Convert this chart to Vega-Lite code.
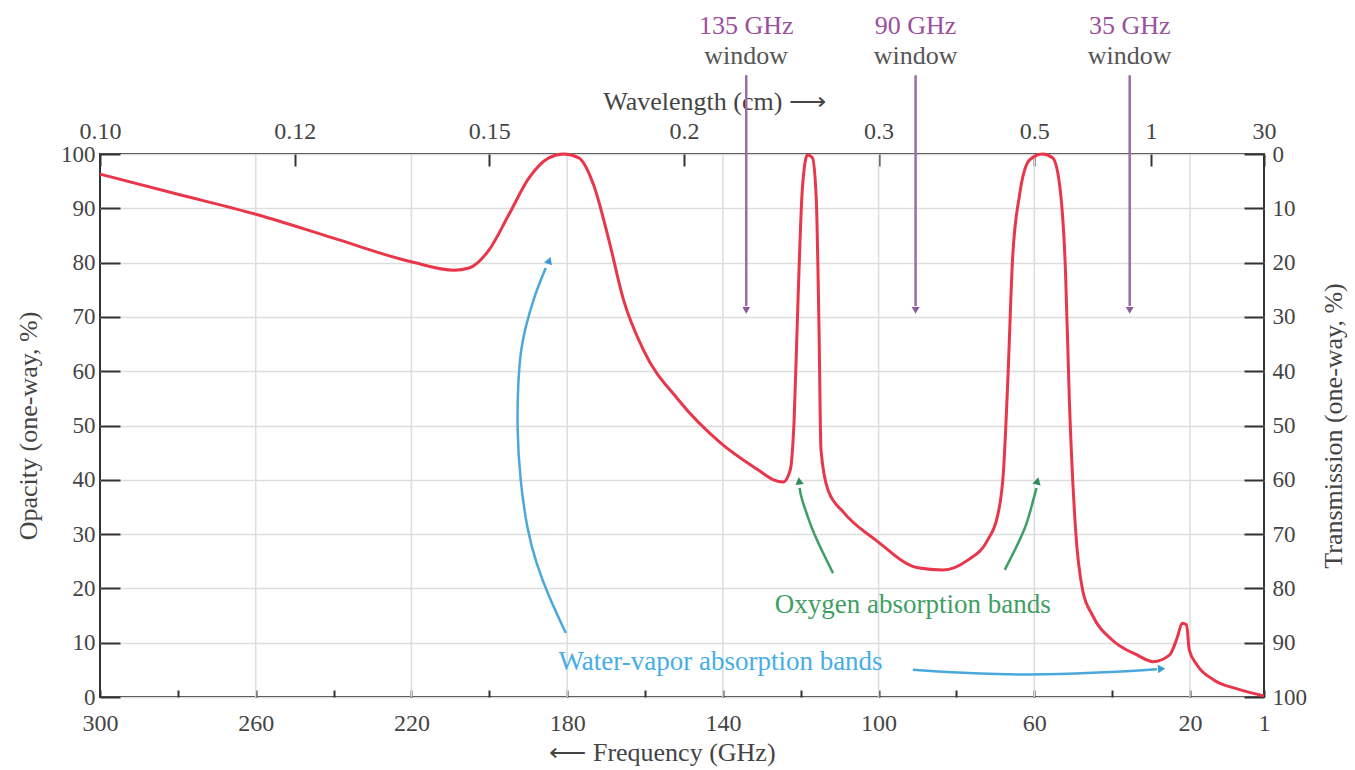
{
  "$schema": "https://vega.github.io/schema/vega-lite/v6.json",
  "width": 1164,
  "height": 543,
  "autosize": {"type": "none"},
  "padding": {"left": 100, "top": 154, "right": 91, "bottom": 73},
  "background": "white",
  "config": {
    "view": {"stroke": "#333333", "strokeWidth": 2},
    "font": "Liberation Serif",
    "axis": {
      "labelFont": "Liberation Serif",
      "labelFontSize": 24,
      "labelColor": "#444444",
      "titleFont": "Liberation Serif",
      "titleFontSize": 26,
      "titleFontWeight": "normal",
      "titleColor": "#444444",
      "tickColor": "#333333",
      "tickWidth": 2,
      "domain": false,
      "grid": false,
      "labelOverlap": false,
      "labelFlush": false
    }
  },
  "datasets": {
    "curve": [
      {"f": 300, "v": 96.3}, {"f": 280, "v": 92.6}, {"f": 259.5, "v": 88.8}, {"f": 240, "v": 84.5},
      {"f": 219.8, "v": 80.1}, {"f": 209, "v": 78.6}, {"f": 205.2, "v": 79}, {"f": 200.1, "v": 82.3},
      {"f": 195, "v": 88.8}, {"f": 189.8, "v": 95.6}, {"f": 184.7, "v": 99.3}, {"f": 180.9, "v": 100},
      {"f": 177, "v": 99.3}, {"f": 173.2, "v": 94.3}, {"f": 169.3, "v": 84.2}, {"f": 165.5, "v": 73.1},
      {"f": 160.4, "v": 63.9}, {"f": 151.4, "v": 54.7}, {"f": 140.6, "v": 46.8}, {"f": 130.9, "v": 41.8},
      {"f": 127, "v": 40}, {"f": 124.5, "v": 39.6}, {"f": 122.7, "v": 41.8}, {"f": 121.7, "v": 51},
      {"f": 120.7, "v": 73.1}, {"f": 119.6, "v": 93.4}, {"f": 118.3, "v": 99.8}, {"f": 117, "v": 99.3},
      {"f": 116, "v": 91.5}, {"f": 115.3, "v": 67.6}, {"f": 114.8, "v": 45.5}, {"f": 113, "v": 38.1},
      {"f": 109.1, "v": 34.1}, {"f": 100.7, "v": 28.9}, {"f": 89.9, "v": 23.8}, {"f": 83.5, "v": 23.4},
      {"f": 77.1, "v": 25.2}, {"f": 72, "v": 28.9}, {"f": 69.4, "v": 33.5}, {"f": 67.9, "v": 41.8},
      {"f": 66.8, "v": 58.4}, {"f": 65.6, "v": 80.5}, {"f": 63.8, "v": 92.4}, {"f": 61.2, "v": 98.9},
      {"f": 57.9, "v": 100}, {"f": 55.3, "v": 99.3}, {"f": 53.5, "v": 94.3}, {"f": 52, "v": 78.6},
      {"f": 51, "v": 54.7}, {"f": 49.4, "v": 30.8}, {"f": 47.6, "v": 19.7}, {"f": 45.1, "v": 15.1},
      {"f": 40, "v": 10.5}, {"f": 33.5, "v": 7.7}, {"f": 29.5, "v": 6.5}, {"f": 25.3, "v": 7.7},
      {"f": 23.3, "v": 10.9}, {"f": 22, "v": 13.6}, {"f": 20.9, "v": 13.3}, {"f": 20.2, "v": 8.7},
      {"f": 18.2, "v": 5.9}, {"f": 13.8, "v": 3.1}, {"f": 7.9, "v": 1.5}, {"f": 1, "v": 0.2}
    ],
    "grid": [{"f": 260}, {"f": 220}, {"f": 180}, {"f": 140}, {"f": 100}, {"f": 60}, {"f": 20}],
    "windows": [
      {"f": 134, "label": "135 GHz"},
      {"f": 90.5, "label": "90 GHz"},
      {"f": 35.5, "label": "35 GHz"}
    ],
    "arrows": [
      {"id": "w1", "i": 1, "f": 180.35, "v": 11.8},
      {"id": "w1", "i": 2, "f": 184.7, "v": 18.4},
      {"id": "w1", "i": 3, "f": 188.0, "v": 24.7},
      {"id": "w1", "i": 4, "f": 190.3, "v": 30.8},
      {"id": "w1", "i": 5, "f": 192.1, "v": 40.0},
      {"id": "w1", "i": 6, "f": 192.9, "v": 49.2},
      {"id": "w1", "i": 7, "f": 192.6, "v": 58.4},
      {"id": "w1", "i": 8, "f": 191.9, "v": 63.9},
      {"id": "w1", "i": 9, "f": 190.9, "v": 67.6},
      {"id": "w1", "i": 10, "f": 188.55, "v": 73.7},
      {"id": "w1", "i": 11, "f": 185.5, "v": 79.0},
      {"id": "w2", "i": 1, "f": 91.2, "v": 5.0},
      {"id": "w2", "i": 2, "f": 75, "v": 4.3},
      {"id": "w2", "i": 3, "f": 61.7, "v": 4.05},
      {"id": "w2", "i": 4, "f": 45, "v": 4.4},
      {"id": "w2", "i": 5, "f": 28.5, "v": 5.1},
      {"id": "o1", "i": 1, "f": 111.7, "v": 22.8},
      {"id": "o1", "i": 2, "f": 116.5, "v": 30},
      {"id": "o1", "i": 3, "f": 119.5, "v": 36},
      {"id": "o1", "i": 4, "f": 120.3, "v": 38.5},
      {"id": "o2", "i": 1, "f": 67.6, "v": 23.4},
      {"id": "o2", "i": 2, "f": 62.5, "v": 31},
      {"id": "o2", "i": 3, "f": 60, "v": 37},
      {"id": "o2", "i": 4, "f": 59.5, "v": 38.5}
    ],
    "heads": [
      {"id": "w1", "f": 184.6, "v": 80.4},
      {"id": "w2", "f": 27.3, "v": 5.2},
      {"id": "o1", "f": 120.4, "v": 39.8},
      {"id": "o2", "f": 59.2, "v": 39.8}
    ],
    "notes": [
      {"kind": "water", "label": "Water-vapor absorption bands", "f": 140.6, "v": 6.4},
      {"kind": "oxygen", "label": "Oxygen absorption bands", "f": 91.2, "v": 16.9}
    ]
  },
  "layer": [
    {
      "data": {"name": "grid"},
      "mark": {"type": "rule", "color": "#dddddd", "strokeWidth": 1.5},
      "encoding": {
        "x": {
          "field": "f", "type": "quantitative",
          "scale": {"domain": [1, 300], "reverse": true, "nice": false, "zero": false},
          "axis": {
            "orient": "bottom",
            "values": [300, 280, 260, 240, 220, 200, 180, 160, 140, 120, 100, 80, 60, 40, 20, 1],
            "labelExpr": "indexof([300, 260, 220, 180, 140, 100, 60, 20, 1], datum.value) >= 0 ? datum.label : ''",
            "tickSize": -7,
            "labelPadding": 21,
            "title": "⟵ Frequency (GHz)",
            "titlePadding": 4,
            "titleX": 562
          }
        }
      }
    },
    {
      "data": {"name": "curve"},
      "mark": {"type": "line", "color": "#e8364a", "strokeWidth": 3, "interpolate": "monotone"},
      "encoding": {
        "x": {
          "field": "f", "type": "quantitative",
          "scale": {"domain": [1, 300], "reverse": true, "nice": false, "zero": false},
          "axis": {
            "orient": "top",
            "values": [300, 250, 200, 150, 100, 60, 30, 1],
            "labelExpr": "datum.value == 300 ? '0.10' : format(30 / datum.value, '.2~f')",
            "tickSize": -12,
            "labelPadding": 23,
            "title": "Wavelength (cm) ⟶",
            "titlePadding": 5,
            "titleX": 614
          }
        },
        "y": {
          "field": "v", "type": "quantitative",
          "scale": {"domain": [0, 100], "nice": false, "zero": false},
          "axis": {
            "orient": "left",
            "values": [0, 10, 20, 30, 40, 50, 60, 70, 80, 90, 100],
            "tickSize": -20,
            "labelPadding": 25,
            "labelFontSize": 23,
            "grid": true,
            "gridColor": "#dddddd",
            "gridWidth": 1.5,
            "title": "Opacity (one-way, %)",
            "titlePadding": 19
          }
        }
      }
    },
    {
      "data": {"name": "arrows"},
      "transform": [{"filter": "datum.id == 'w1' || datum.id == 'w2'"}],
      "mark": {"type": "line", "color": "#4aa8da", "strokeWidth": 2.5, "interpolate": "basis"},
      "encoding": {
        "x": {"field": "f", "type": "quantitative", "scale": {"domain": [1, 300], "reverse": true, "nice": false, "zero": false}, "axis": null},
        "y": {
          "field": "v", "type": "quantitative",
          "scale": {"domain": [0, 100], "nice": false, "zero": false},
          "axis": {
            "orient": "right",
            "values": [0, 10, 20, 30, 40, 50, 60, 70, 80, 90, 100],
            "labelExpr": "100 - datum.value",
            "tickSize": -20,
            "labelPadding": 28,
            "labelFontSize": 23,
            "title": "Transmission (one-way, %)",
            "titleAngle": 270,
            "titlePadding": 40
          }
        },
        "detail": {"field": "id"},
        "order": {"field": "i", "type": "quantitative"}
      }
    },
    {
      "data": {"name": "arrows"},
      "transform": [{"filter": "datum.id == 'o1' || datum.id == 'o2'"}],
      "mark": {"type": "line", "color": "#3f9e64", "strokeWidth": 2.5, "interpolate": "cardinal"},
      "encoding": {
        "x": {"field": "f", "type": "quantitative", "scale": {"domain": [1, 300], "reverse": true, "nice": false, "zero": false}, "axis": null},
        "y": {"field": "v", "type": "quantitative", "scale": {"domain": [0, 100], "nice": false, "zero": false}, "axis": null},
        "detail": {"field": "id"},
        "order": {"field": "i", "type": "quantitative"}
      }
    },
    {
      "data": {"name": "heads"},
      "transform": [{"filter": "datum.id == 'w1'"}],
      "mark": {"type": "point", "shape": "triangle-up", "filled": true, "opacity": 1, "size": 70, "angle": 20, "color": "#3a9bd0"},
      "encoding": {
        "x": {"field": "f", "type": "quantitative", "scale": {"domain": [1, 300], "reverse": true, "nice": false, "zero": false}, "axis": null},
        "y": {"field": "v", "type": "quantitative", "scale": {"domain": [0, 100], "nice": false, "zero": false}, "axis": null}
      }
    },
    {
      "data": {"name": "heads"},
      "transform": [{"filter": "datum.id == 'w2'"}],
      "mark": {"type": "point", "shape": "triangle-up", "filled": true, "opacity": 1, "size": 70, "angle": 87, "color": "#3a9bd0"},
      "encoding": {
        "x": {"field": "f", "type": "quantitative", "scale": {"domain": [1, 300], "reverse": true, "nice": false, "zero": false}, "axis": null},
        "y": {"field": "v", "type": "quantitative", "scale": {"domain": [0, 100], "nice": false, "zero": false}, "axis": null}
      }
    },
    {
      "data": {"name": "heads"},
      "transform": [{"filter": "datum.id == 'o1'"}],
      "mark": {"type": "point", "shape": "triangle-up", "filled": true, "opacity": 1, "size": 70, "angle": 352, "color": "#2f8a55"},
      "encoding": {
        "x": {"field": "f", "type": "quantitative", "scale": {"domain": [1, 300], "reverse": true, "nice": false, "zero": false}, "axis": null},
        "y": {"field": "v", "type": "quantitative", "scale": {"domain": [0, 100], "nice": false, "zero": false}, "axis": null}
      }
    },
    {
      "data": {"name": "heads"},
      "transform": [{"filter": "datum.id == 'o2'"}],
      "mark": {"type": "point", "shape": "triangle-up", "filled": true, "opacity": 1, "size": 70, "angle": 14, "color": "#2f8a55"},
      "encoding": {
        "x": {"field": "f", "type": "quantitative", "scale": {"domain": [1, 300], "reverse": true, "nice": false, "zero": false}, "axis": null},
        "y": {"field": "v", "type": "quantitative", "scale": {"domain": [0, 100], "nice": false, "zero": false}, "axis": null}
      }
    },
    {
      "data": {"name": "windows"},
      "mark": {"type": "rule", "color": "#9b6aa8", "strokeWidth": 2.5},
      "encoding": {
        "x": {"field": "f", "type": "quantitative", "scale": {"domain": [1, 300], "reverse": true, "nice": false, "zero": false}, "axis": null},
        "y": {"datum": 114.5, "type": "quantitative", "scale": {"domain": [0, 100], "nice": false, "zero": false}, "axis": null},
        "y2": {"datum": 72}
      }
    },
    {
      "data": {"name": "windows"},
      "mark": {"type": "point", "shape": "triangle-down", "filled": true, "opacity": 1, "size": 60, "color": "#8a5a9a"},
      "encoding": {
        "x": {"field": "f", "type": "quantitative", "scale": {"domain": [1, 300], "reverse": true, "nice": false, "zero": false}, "axis": null},
        "y": {"datum": 71.2, "type": "quantitative", "scale": {"domain": [0, 100], "nice": false, "zero": false}, "axis": null}
      }
    },
    {
      "data": {"name": "windows"},
      "mark": {"type": "text", "font": "Liberation Serif", "fontSize": 26, "color": "#9b4f9e", "baseline": "middle", "align": "center"},
      "encoding": {
        "x": {"field": "f", "type": "quantitative", "scale": {"domain": [1, 300], "reverse": true, "nice": false, "zero": false}, "axis": null},
        "y": {"datum": 123.6, "type": "quantitative", "scale": {"domain": [0, 100], "nice": false, "zero": false}, "axis": null},
        "text": {"field": "label"}
      }
    },
    {
      "data": {"name": "windows"},
      "mark": {"type": "text", "font": "Liberation Serif", "fontSize": 26, "color": "#555555", "baseline": "middle", "align": "center", "text": "window"},
      "encoding": {
        "x": {"field": "f", "type": "quantitative", "scale": {"domain": [1, 300], "reverse": true, "nice": false, "zero": false}, "axis": null},
        "y": {"datum": 118.0, "type": "quantitative", "scale": {"domain": [0, 100], "nice": false, "zero": false}, "axis": null}
      }
    },
    {
      "data": {"name": "notes"},
      "transform": [{"filter": "datum.kind == 'water'"}],
      "mark": {"type": "text", "font": "Liberation Serif", "fontSize": 27, "color": "#45aee6", "baseline": "middle", "align": "center"},
      "encoding": {
        "x": {"field": "f", "type": "quantitative", "scale": {"domain": [1, 300], "reverse": true, "nice": false, "zero": false}, "axis": null},
        "y": {"field": "v", "type": "quantitative", "scale": {"domain": [0, 100], "nice": false, "zero": false}, "axis": null},
        "text": {"field": "label"}
      }
    },
    {
      "data": {"name": "notes"},
      "transform": [{"filter": "datum.kind == 'oxygen'"}],
      "mark": {"type": "text", "font": "Liberation Serif", "fontSize": 27, "color": "#3f9e64", "baseline": "middle", "align": "center"},
      "encoding": {
        "x": {"field": "f", "type": "quantitative", "scale": {"domain": [1, 300], "reverse": true, "nice": false, "zero": false}, "axis": null},
        "y": {"field": "v", "type": "quantitative", "scale": {"domain": [0, 100], "nice": false, "zero": false}, "axis": null},
        "text": {"field": "label"}
      }
    }
  ],
  "resolve": {"axis": {"x": "independent", "y": "independent"}}
}
